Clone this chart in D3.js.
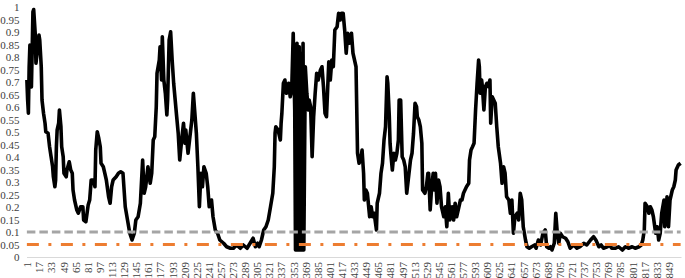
<!DOCTYPE html>
<html>
<head>
<meta charset="utf-8">
<script src="https://cdn.jsdelivr.net/npm/d3@7"></script>
<style>
  body { margin: 0; background: #fff; }
  text { font-family: "Liberation Serif", "Times New Roman", serif; fill: #404040; }
</style>
</head>
<body>
<div id="chart"></div>
<script>
// number of categories on the x axis
var categoryCount = 865;
// shown category labels
var xTickLabels = [1,17,33,49,65,81,97,113,129,145,161,177,193,209,225,241,257,273,289,305,321,337,353,369,385,401,417,433,449,465,481,497,513,529,545,561,577,593,609,625,641,657,673,689,705,721,737,753,769,785,801,817,833,849];
var yTickValues = [0,0.05,0.1,0.15,0.2,0.25,0.3,0.35,0.4,0.45,0.5,0.55,0.6,0.65,0.7,0.75,0.8,0.85,0.9,0.95,1];

// black series: category index and value
var seriesIdx = [1,2,3,4,5,6,7,8,9,10,12,13,15,17,18,20,21,23,25,26,29,31,33,35,36,38,39,40,41,43,44,46,47,49,50,53,54,57,59,61,62,64,67,69,72,75,76,79,82,84,86,89,91,92,94,96,98,99,102,104,106,109,111,113,115,119,122,125,
  128,131,134,137,140,143,145,148,151,154,156,158,161,164,166,168,170,172,173,176,177,179,180,182,184,186,187,189,191,193,195,197,199,201,203,206,208,210,211,214,217,219,221,223,225,227,229,231,233,235,238,240,242,245,247,250,253,256,261,265,
  270,274,278,283,287,292,296,300,303,306,308,311,314,317,320,323,326,328,329,330,333,336,337,338,340,342,344,347,349,351,353,355,356,358,359,361,362,363,364,366,367,369,371,373,374,376,378,380,382,384,386,389,391,393,395,397,400,402,404,406,408,411,413,415,417,
  419,421,423,425,427,430,432,434,436,438,440,442,444,446,447,449,451,454,456,458,460,463,464,467,469,471,473,475,477,478,480,481,482,484,486,488,490,492,493,495,497,499,501,503,505,508,510,512,514,516,517,519,521,523,524,527,529,531,532,534,536,538,539,541,543,545,547,549,552,554,556,558,560,
  563,565,567,569,572,574,576,578,582,585,586,588,590,592,594,596,598,599,600,602,603,605,607,609,611,613,614,616,618,620,622,624,627,629,631,633,635,638,640,642,644,646,649,651,653,655,657,660,662,665,668,672,674,677,680,683,686,688,691,693,695,698,700,702,704,706,709,
  713,716,719,724,728,732,737,741,746,750,753,757,760,763,768,771,774,779,783,788,792,796,801,805,810,813,815,817,818,821,823,825,827,829,832,834,836,838,840,843,844,846,847,849,851,854,856,858,859,862,865];
var seriesVal = [.708,.628,.575,.76,.848,.788,.68,.828,.981,.99,.895,.775,.828,.888,.868,.761,.628,.575,.535,.501,.495,.441,.401,.361,.321,.281,.308,.441,.508,.535,.588,.521,.441,.401,.335,.321,.348,.381,.348,.335,.268,.228,.188,.175,.201,.201,.148,.141,.208,.228,.308,.308,.281,.428,.501,.475,.441,.375,.361,.335,.308,.241,.215,.281,.308,.321,.335,.341,
  .335,.201,.148,.095,.068,.095,.148,.161,.215,.388,.255,.281,.361,.295,.335,.468,.481,.601,.735,.788,.841,.708,.881,.708,.655,.568,.628,.868,.901,.788,.695,.628,.561,.495,.388,.481,.535,.455,.508,.415,.495,.548,.655,.575,.495,.361,.201,.335,.281,.361,.335,.281,.201,.228,.161,.108,.095,.068,.055,.041,
  .035,.035,.048,.035,.048,.035,.055,.075,.041,.055,.041,.068,.108,.121,.148,.201,.255,.361,.495,.521,.508,.468,.535,.575,.695,.708,.655,.695,.641,.668,.895,.588,.028,.855,.028,.841,.028,.815,.028,.855,.028,.761,.655,.588,.628,.601,.401,.561,.655,.735,.708,.748,.761,.681,.575,.561,.781,.708,.788,.761,.908,.921,.975,.948,.975,
  .975,.908,.815,.895,.855,.895,.815,.788,.761,.415,.375,.388,.428,.335,.228,.268,.255,.161,.201,.161,.175,.108,.215,.255,.335,.375,.468,.521,.721,.695,.561,.455,.415,.348,.415,.388,.415,.468,.628,.628,.401,.388,.361,.255,.308,.388,.415,.495,.615,.601,.561,.548,.521,.455,.268,.255,.281,.335,.335,.188,.281,.335,.268,.335,.215,.308,.281,.201,.161,.201,.121,.255,.148,
  .201,.148,.215,.161,.201,.228,.228,.255,.281,.295,.388,.428,.441,.455,.588,.695,.788,.761,.655,.708,.681,.588,.681,.695,.681,.708,.535,.641,.628,.615,.521,.441,.375,.295,.361,.335,.241,.228,.175,.228,.095,.161,.175,.148,.255,.228,.121,.068,.041,.035,.041,.048,.035,.068,.048,.095,.108,.041,.035,.041,.028,.055,.175,.095,.055,.095,.081,
  .075,.061,.035,.048,.035,.041,.055,.048,.068,.081,.068,.041,.048,.035,.041,.048,.035,.035,.041,.028,.041,.035,.041,.035,.041,.048,.068,.108,.215,.201,.175,.201,.188,.161,.095,.121,.068,.095,.175,.228,.121,.175,.241,.121,.228,.268,.281,.308,.348,.368,.375];

// constant reference lines
var grayLevel = 0.1;
var orangeLevel = 0.05;

function lineChart(selector, width, height){
    var margin = {left: 26.5, right: 4, top: 7, bottom: 21};
    var svg = d3.select(selector).append('svg')
        .attr('width', width).attr('height', height);

    var x = d3.scaleLinear().domain([0.5, categoryCount + 0.5]).range([margin.left, width - margin.right]);
    var y = d3.scaleLinear().domain([0, 1]).range([height - margin.bottom, margin.top]);

    //---------------------------------------------------------------------
    // y axis: labels only
    var yAxis = d3.axisLeft(y).tickValues(yTickValues).tickSize(0).tickPadding(7)
        .tickFormat(function(d){ return d3.format('~g')(+d.toFixed(2)); });
    var gy = svg.append('g').attr('transform', 'translate(' + margin.left + ',0)').call(yAxis);
    gy.select('.domain').remove();
    gy.selectAll('text').style('font-size', '11px').attr('fill', '#404040');

    //---------------------------------------------------------------------
    // x axis: light line and rotated labels
    var xAxis = d3.axisBottom(x).tickValues(xTickLabels).tickSize(0).tickFormat(d3.format('d'));
    var gx = svg.append('g').attr('transform', 'translate(0,' + y(0) + ')').call(xAxis);
    gx.select('.domain').attr('stroke', '#d9d9d9').attr('stroke-width', 1);
    gx.selectAll('text')
        .style('font-size', '11px').attr('fill', '#404040')
        .attr('text-anchor', 'end')
        .attr('transform', 'rotate(-90)')
        .attr('x', -5).attr('y', 0).attr('dy', '0.35em');

    //---------------------------------------------------------------------
    var pts = seriesIdx.map(function(d, k){ return [d, seriesVal[k]]; });
    var line = d3.line().x(function(d){ return x(d[0]); }).y(function(d){ return y(d[1]); });
    svg.append('path').datum(pts)
        .attr('d', line)
        .attr('fill', 'none').attr('stroke', '#000')
        .attr('stroke-width', 3.6).attr('stroke-linejoin', 'round');

    //---------------------------------------------------------------------
    var refs = [
        {v: grayLevel, color: '#a5a5a5', dash: '8.5,4'},
        {v: orangeLevel, color: '#ed7d31', dash: '12,9.5,3,9.5'}
    ];
    svg.selectAll('line.ref').data(refs).enter().append('line')
        .attr('class', 'ref')
        .attr('x1', x(1)).attr('x2', x(categoryCount))
        .attr('y1', function(d){ return y(d.v); }).attr('y2', function(d){ return y(d.v); })
        .attr('stroke', function(d){ return d.color; })
        .attr('stroke-width', 3)
        .attr('stroke-dasharray', function(d){ return d.dash; });
}

lineChart('#chart', 685, 278);
</script>
</body>
</html>
